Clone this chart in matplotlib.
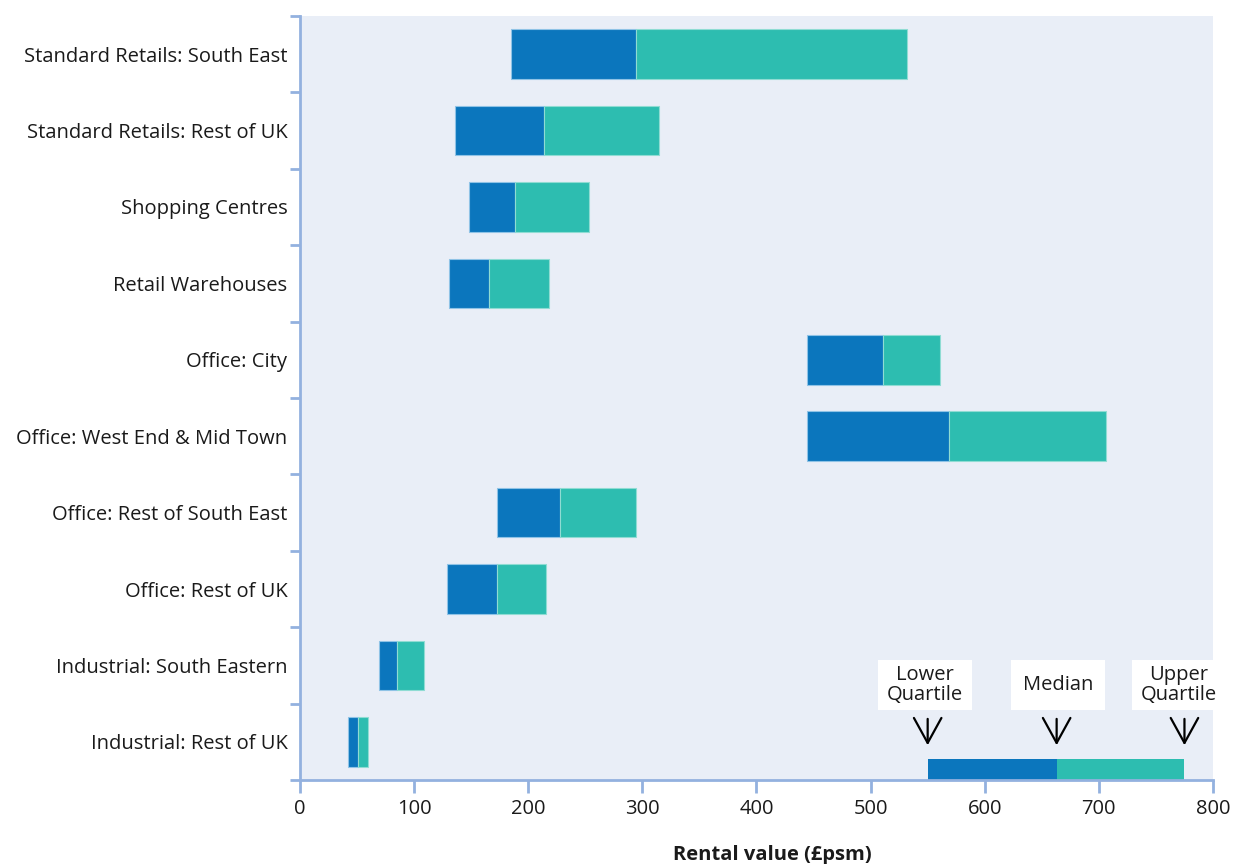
import numpy as np
import matplotlib.pyplot as plt
from matplotlib.patches import Rectangle

plt.rcParams['font.family'] = ['Open Sans', 'DejaVu Sans']

# podaci (od vrha ka dnu)
categories = ['Standard Retails: South East', 'Standard Retails: Rest of UK',
              'Shopping Centres', 'Retail Warehouses', 'Office: City',
              'Office: West End & Mid Town', 'Office: Rest of South East',
              'Office: Rest of UK', 'Industrial: South Eastern',
              'Industrial: Rest of UK']
lower_q = [185, 136, 148, 131, 444, 444, 173, 129, 69, 42]
median = [294, 214, 188, 166, 511, 569, 228, 173, 85, 51]
upper_q = [532, 315, 253, 218, 561, 706, 294, 216, 109, 60]

# primer (legenda) u donjem desnom uglu
key_values = [550, 663, 775]
key_labels = ['Lower\nQuartile', 'Median', 'Upper\nQuartile']

c_low = '#0b76bd'
c_up = '#2dbdb0'
c_axis = '#93b1df'
bg = '#e9eef7'
txt = '#1a1a1a'

fig = plt.figure(figsize=(12.38, 8.64), dpi=100)
ax = fig.add_axes([0.2423, 0.0972, 0.9798 - 0.2423, 0.9815 - 0.0972])
ax.set_facecolor(bg)

n = len(categories)
y = np.arange(n)[::-1]
lower_q = np.array(lower_q)
median = np.array(median)
upper_q = np.array(upper_q)

ax.barh(y, median - lower_q, left=lower_q, height=0.65, color=c_low,
        edgecolor='#8fc3e6', linewidth=0.8)
ax.barh(y, upper_q - median, left=median, height=0.65, color=c_up,
        edgecolor='#8fdcd3', linewidth=0.8)

# legenda kao mali bar
kh = 0.275
ax.barh(-0.5 + kh / 2, key_values[1] - key_values[0], left=key_values[0],
        height=kh, color=c_low, linewidth=0)
ax.barh(-0.5 + kh / 2, key_values[2] - key_values[1], left=key_values[1],
        height=kh, color=c_up, linewidth=0)

label_x = [547.5, 664, 770]
box_w = 82
box_h = 0.65
box_y = 0.745
for xv, lx, lab in zip(key_values, label_x, key_labels):
    ax.annotate('', xy=(xv, -0.045), xytext=(xv, 0.3),
                arrowprops=dict(arrowstyle='->,head_length=0.6,head_width=0.33',
                                color='black', lw=1.6, mutation_scale=30,
                                shrinkA=0, shrinkB=0))
    ax.add_patch(Rectangle((lx - box_w / 2, box_y - box_h / 2), box_w, box_h,
                           facecolor='white', edgecolor='none', zorder=3))
    ax.text(lx, box_y, lab, ha='center', va='center', fontsize=14.5,
            linespacing=1.0, color=txt, zorder=4)

ax.set_xlim(0, 800)
ax.set_ylim(-0.5, n - 0.5)
ax.set_xticks(np.arange(0, 801, 100))
ax.set_yticks(y)
ax.set_yticklabels(categories)
ax.set_yticks(np.arange(-0.5, n, 1), minor=True)

ax.tick_params(axis='y', which='major', length=0, pad=9, labelsize=14.5,
               labelcolor=txt)
ax.tick_params(axis='y', which='minor', length=7, width=2, color=c_axis)
ax.tick_params(axis='x', length=9, width=2, color=c_axis, labelsize=14.5,
               labelcolor=txt, pad=5)

for s in ['top', 'right']:
    ax.spines[s].set_visible(False)
for s in ['left', 'bottom']:
    ax.spines[s].set_color(c_axis)
    ax.spines[s].set_linewidth(2)

ax.set_xlabel('Rental value (£psm)', fontsize=14.5, fontweight='bold',
              color=txt)
ax.xaxis.set_label_coords(0.517, -0.085)

fig.savefig('out.png', dpi=100, facecolor='white')
